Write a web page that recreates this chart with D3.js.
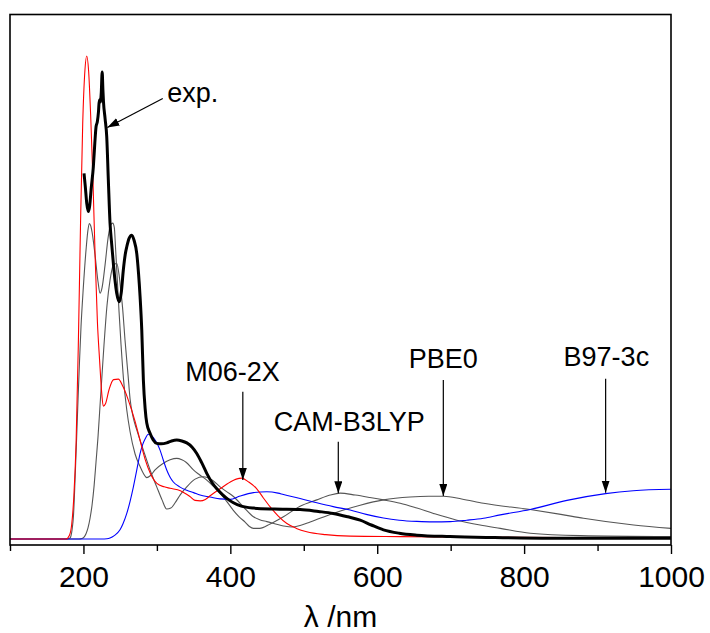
<!DOCTYPE html>
<html lang="en">
<head>
  <meta charset="UTF-8" />
  <script src="https://d3js.org/d3.v7.min.js"></script>
  <title>UV-Vis spectra</title>
  <style>
    body { margin: 0; background: #fff; }
    text { font-family: "Liberation Sans", Arial, sans-serif; fill: #000; }
  </style>
</head>
<body>
  <svg width="710" height="633"></svg>

  <script>
    // spectra: [wavelength nm, normalised intensity]
    const expData = [
      [200.8,0.757],[202.5,0.73],[204.5,0.695],[206.7,0.678],[208.5,0.69],[210.5,0.725],[213.5,0.771],
      [215.5,0.82],[217.2,0.854],[218.9,0.864],[220.5,0.885],[221.6,0.909],[223,0.905],[224.3,0.925],
      [225.5,0.967],[226.5,0.93],[227.3,0.905],[229.5,0.87],[231.7,0.833],[233.9,0.743],[236.2,0.654],
      [238.5,0.61],[240.7,0.571],[243,0.535],[245.3,0.509],[248.9,0.491],[251.5,0.51],[254.3,0.557],
      [257,0.59],[259,0.605],[262,0.622],[265.8,0.629],[269,0.618],[272.6,0.591],[275,0.55],[277.1,0.502],
      [279.4,0.433],[281.6,0.329],[284,0.27],[286.2,0.24],[290.7,0.219],[295,0.205],[299.8,0.198],
      [306,0.197],[313.4,0.199],[320,0.203],[327.1,0.205],[334,0.203],[340.7,0.199],[348,0.19],
      [354.3,0.177],[361,0.158],[367.9,0.136],[375,0.117],[381.6,0.104],[390,0.091],[397,0.082],
      [404.2,0.075],[415,0.068],[431.4,0.064],[460,0.062],[495,0.061],[520,0.057],[540,0.053],
      [560,0.046],[576.8,0.039],[592,0.029],[608.5,0.019],[630,0.012],[654,0.008],[699,0.005],
      [760,0.003],[835.6,0.0015],[1000,0.0015]
    ];

    const m062xData = [
      [100,0],[176,0],[181,0.008],[184,0.03],[187,0.09],[190,0.2],[193,0.4],[196,0.65],[199,0.86],
      [202,0.97],[204.5,1.0],[207,0.97],[210,0.87],[213,0.74],[216,0.58],[219,0.45],[222,0.37],
      [225,0.3],[227,0.275],[230,0.28],[235,0.31],[241,0.33],[247.5,0.331],[254,0.315],[261,0.288],
      [270,0.245],[277,0.205],[284,0.165],[291,0.136],[300,0.115],[310,0.108],[318,0.105],[332,0.1],
      [345,0.088],[352,0.08],[359,0.079],[366,0.082],[373,0.09],[386,0.104],[400,0.118],[408,0.124],
      [415.6,0.126],[425,0.118],[436,0.104],[445,0.085],[454,0.067],[465,0.048],[477,0.032],[490,0.022],
      [504,0.015],[530,0.009],[563,0.006],[631,0.005],[767,0.0035],[1000,0.002]
    ];

    const camData = [
      [100,0],[176,0],[180,0.001],[181.7,0.002],[184.5,0.019],[186.5,0.05],[188.5,0.12],[190.5,0.2],
      [192.6,0.288],[194.7,0.37],[196.7,0.44],[199.8,0.52],[203.5,0.598],[206,0.638],[208,0.653],
      [210,0.648],[211.7,0.636],[215.8,0.588],[219.9,0.532],[222.6,0.509],[225.3,0.52],[229.4,0.567],
      [233.5,0.623],[236.9,0.65],[239.9,0.654],[242,0.645],[243.8,0.6],[246,0.54],[248.5,0.47],
      [251.2,0.402],[254.6,0.33],[259,0.267],[263.5,0.222],[270.3,0.176],[277.1,0.15],[281.5,0.136],
      [286.2,0.127],[291,0.131],[297.5,0.143],[308.8,0.157],[318,0.164],[327.1,0.167],[334,0.164],
      [339.7,0.159],[349.7,0.143],[358,0.133],[367.9,0.122],[377,0.109],[386,0.095],[395,0.078],
      [403.8,0.06],[412,0.046],[420.1,0.035],[426,0.026],[431.4,0.022],[440,0.022],[454.2,0.031],
      [472.3,0.046],[495,0.068],[517.8,0.081],[535.9,0.091],[549.5,0.095],[570,0.091],[590,0.086],
      [608.5,0.081],[631.3,0.074],[654,0.064],[676.6,0.053],[708.5,0.039],[740,0.029],[767.5,0.022],
      [808.3,0.012],[876.5,0.007],[1000,0.005]
    ];

    const pbe0Data = [
      [100,0],[194,0],[198,0.001],[200.8,0.004],[203.5,0.011],[206.2,0.023],[209,0.043],[211.7,0.07],
      [214.5,0.11],[217.1,0.159],[220,0.215],[222.6,0.277],[225.3,0.34],[228,0.402],[232.1,0.484],
      [236.2,0.536],[240.3,0.565],[245.3,0.571],[248.5,0.547],[250.5,0.52],[253.2,0.48],[256.6,0.412],
      [260.7,0.34],[263.5,0.29],[268,0.25],[272.6,0.226],[281.6,0.184],[290.7,0.143],[299.8,0.108],
      [307,0.081],[313.4,0.062],[319,0.064],[324.8,0.075],[332,0.092],[340.7,0.108],[352,0.124],
      [363.3,0.129],[375.2,0.122],[386,0.108],[395,0.098],[404.2,0.088],[418,0.066],[431.4,0.046],
      [440,0.04],[449.7,0.036],[472.3,0.027],[484.1,0.025],[495,0.028],[508.7,0.035],[540,0.053],
      [576.8,0.07],[608.5,0.081],[644.8,0.087],[670,0.0885],[690.2,0.0885],[715,0.083],[744.7,0.074],
      [808.3,0.061],[850,0.051],[880.9,0.043],[949.1,0.029],[1000,0.022]
    ];

    const b973cData = [
      [100,0],[225,0],[232,0.0005],[236.2,0.002],[242,0.007],[249.8,0.019],[254,0.032],[259,0.053],
      [263.5,0.078],[268,0.108],[272.5,0.142],[277.1,0.177],[280.5,0.195],[283.9,0.207],[288.4,0.217],
      [292.5,0.214],[297.5,0.205],[300.8,0.196],[304.3,0.184],[308.8,0.163],[313.4,0.143],[318,0.128],
      [322.4,0.118],[331,0.108],[340.7,0.101],[350,0.096],[358.8,0.091],[372.4,0.087],[386,0.083],
      [399.7,0.082],[413.3,0.089],[431.4,0.096],[449.7,0.098],[465,0.095],[472.3,0.092],[495,0.084],
      [517.8,0.075],[540,0.067],[563.1,0.06],[585,0.051],[608.5,0.0435],[630,0.039],[654,0.0365],
      [676,0.0355],[699.4,0.036],[722,0.039],[744.7,0.043],[767.5,0.05],[808.3,0.061],[858.3,0.08],
      [910.9,0.094],[948.6,0.1],[1000,0.103]
    ];

    const majorTicks = [200, 400, 600, 800, 1000];
    const minorTicks = [100, 300, 500, 700, 900];

    // labels: text position and arrow (tail -> tip) in data units
    const labels = [
      { text: "exp.",      tx: 314, ty: 0.905, anchor: "start",  from: [308, 0.912], to: [232.5, 0.852] },
      { text: "M06-2X",    tx: 403, ty: 0.327, anchor: "middle", from: [417, 0.305], to: [417, 0.122] },
      { text: "CAM-B3LYP", tx: 562, ty: 0.224, anchor: "middle", from: [547, 0.2015], to: [547, 0.0946] },
      { text: "PBE0",      tx: 690, ty: 0.355, anchor: "middle", from: [690, 0.329], to: [690, 0.089] },
      { text: "B97-3c",    tx: 912, ty: 0.358, anchor: "middle", from: [911, 0.332], to: [911, 0.096] }
    ];

    const pLeft = 10, pRight = 671, pTop = 14.5, pBottom = 545;

    const x = d3.scaleLinear().domain([100, 1000]).range([pLeft, pRight]);
    const y = d3.scaleLinear().domain([-0.0124, 1.0859]).range([pBottom, pTop]);

    const svg = d3.select("svg");

    const defs = svg.append("defs");
    defs.append("clipPath").attr("id", "plot")
      .append("rect")
      .attr("x", pLeft).attr("y", pTop)
      .attr("width", pRight - pLeft).attr("height", pBottom - pTop);

    defs.append("marker")
      .attr("id", "head")
      .attr("markerUnits", "userSpaceOnUse")
      .attr("markerWidth", 13).attr("markerHeight", 9)
      .attr("refX", 12).attr("refY", 4)
      .attr("orient", "auto")
      .append("path")
      .attr("d", "M0,0 L12,4 L0,8 Z")
      .attr("fill", "#000");

    const line = d3.line()
      .x(d => x(d[0]))
      .y(d => y(d[1]))
      .curve(d3.curveMonotoneX);

    const series = [
      { data: camData, color: "#555", width: 1.1 },
      { data: pbe0Data, color: "#555", width: 1.1 },
      { data: b973cData, color: "#0000ff", width: 1.1 },
      { data: m062xData, color: "#ff0000", width: 1.1 },
      { data: expData, color: "#000", width: 3 }
    ];

    svg.append("g")
      .attr("clip-path", "url(#plot)")
      .selectAll("path")
      .data(series)
      .enter()
      .append("path")
      .attr("d", d => line(d.data))
      .attr("fill", "none")
      .attr("stroke", d => d.color)
      .attr("stroke-width", d => d.width)
      .attr("stroke-linejoin", "round");

    // frame
    svg.append("rect")
      .attr("x", pLeft).attr("y", pTop)
      .attr("width", pRight - pLeft).attr("height", pBottom - pTop)
      .attr("fill", "none")
      .attr("stroke", "#000")
      .attr("stroke-width", 1.6);

    const xAxis = svg.append("g")
      .attr("transform", `translate(0,${pBottom})`)
      .call(d3.axisBottom(x).tickValues(majorTicks).tickSize(9).tickPadding(12).tickFormat(d3.format("d")));

    const xMinor = svg.append("g")
      .attr("transform", `translate(0,${pBottom})`)
      .call(d3.axisBottom(x).tickValues(minorTicks).tickSize(6).tickFormat(""));

    [xAxis, xMinor].forEach(g => {
      g.select(".domain").remove();
      g.selectAll("line").attr("stroke", "#000").attr("stroke-width", 1.4);
    });
    xAxis.selectAll("text")
      .attr("font-size", 30)
      .attr("font-family", "'Liberation Sans', Arial, sans-serif")
      .attr("fill", "#000");

    svg.append("text")
      .attr("x", (pLeft + pRight) / 2)
      .attr("y", 627)
      .attr("text-anchor", "middle")
      .attr("font-size", 30)
      .text("λ /nm");

    const ann = svg.append("g");
    ann.selectAll("line")
      .data(labels)
      .enter()
      .append("line")
      .attr("x1", d => x(d.from[0])).attr("y1", d => y(d.from[1]))
      .attr("x2", d => x(d.to[0])).attr("y2", d => y(d.to[1]))
      .attr("stroke", "#000")
      .attr("stroke-width", 1.2)
      .attr("marker-end", "url(#head)");

    ann.selectAll("text")
      .data(labels)
      .enter()
      .append("text")
      .attr("x", d => x(d.tx))
      .attr("y", d => y(d.ty))
      .attr("text-anchor", d => d.anchor)
      .attr("font-size", 27)
      .text(d => d.text);
  </script>
</body>
</html>
